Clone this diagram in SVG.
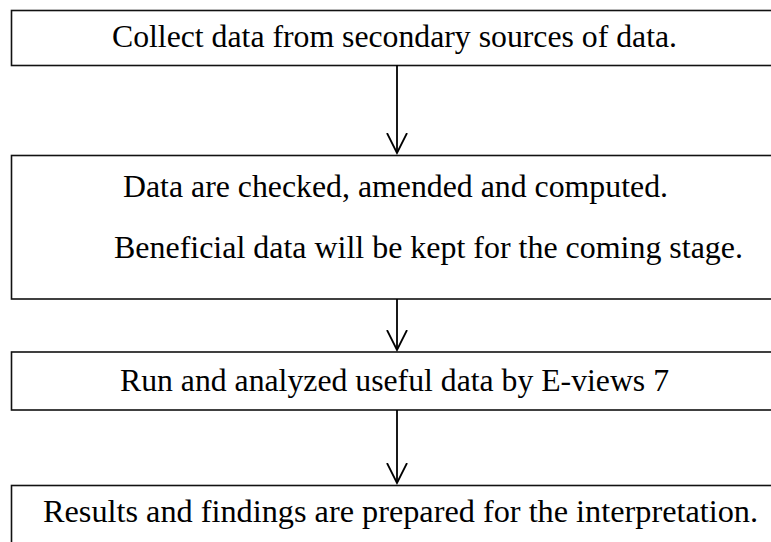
<svg xmlns="http://www.w3.org/2000/svg" width="771" height="542" viewBox="0 0 771 542">
<defs>
<style>
.box{fill:#fff;stroke:#111;stroke-width:1.6}
.t{font-family:"Liberation Serif","Times New Roman",serif;font-size:32px;fill:#000}
.c{stroke:#000;stroke-width:1.8;fill:none}
</style>
<marker id="arr" markerWidth="22" markerHeight="24" refX="20" refY="12" orient="auto" markerUnits="userSpaceOnUse" viewBox="0 0 22 24">
<path d="M0,2 L20,12 L0,22" fill="none" stroke="#000" stroke-width="1.8"/>
</marker>
</defs>
<rect width="771" height="542" fill="#fff"/>
<g id="n1">
<rect class="box" x="11.5" y="10.5" width="775" height="55"/>
<text class="t" x="112" y="47" textLength="565" lengthAdjust="spacingAndGlyphs">Collect data from secondary sources of data.</text>
</g>
<g id="n2">
<rect class="box" x="11.5" y="155.5" width="775" height="143.5"/>
<text class="t" x="123" y="197" textLength="545" lengthAdjust="spacingAndGlyphs">Data are checked, amended and computed.</text>
<text class="t" x="114" y="258" textLength="629" lengthAdjust="spacingAndGlyphs">Beneficial data will be kept for the coming stage.</text>
</g>
<g id="n3">
<rect class="box" x="11.5" y="352" width="775" height="58"/>
<text class="t" x="120" y="391" textLength="549" lengthAdjust="spacingAndGlyphs">Run and analyzed useful data by E-views 7</text>
</g>
<g id="n4">
<rect class="box" x="11.5" y="485.5" width="775" height="80"/>
<text class="t" x="43" y="522" textLength="715" lengthAdjust="spacingAndGlyphs">Results and findings are prepared for the interpretation.</text>
</g>
<g id="connectors">
<line class="c" x1="397" y1="65" x2="397" y2="153" marker-end="url(#arr)"/>
<line class="c" x1="397" y1="299" x2="397" y2="350" marker-end="url(#arr)"/>
<line class="c" x1="397" y1="410" x2="397" y2="483" marker-end="url(#arr)"/>
</g>
</svg>
